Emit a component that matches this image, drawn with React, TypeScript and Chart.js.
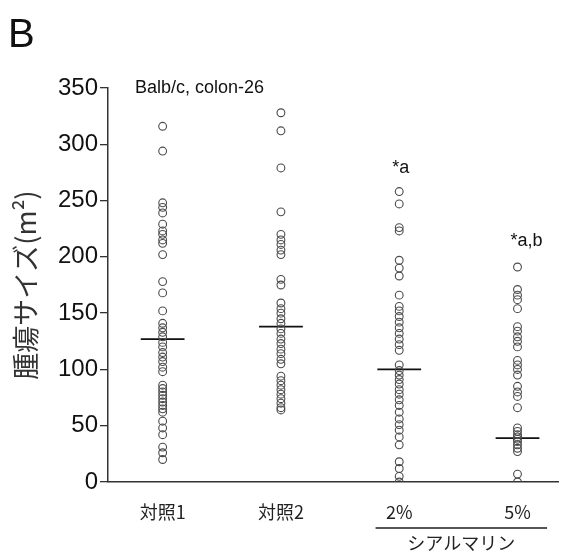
import React, { useEffect, useRef } from "react";
import { Chart, registerables } from "chart.js";

Chart.register(...registerables);

const categories = ["対照1", "対照2", "2%", "5%"];
const groupX = [1, 2, 3, 4];

const control1 = [316, 294, 248, 244, 239, 229, 223, 220, 215, 212, 202, 178, 168, 152, 141, 137, 133, 129, 124, 120, 115, 111, 107, 102, 98, 86, 83, 80, 77, 74, 71, 68, 65, 62, 54, 48, 42, 31, 26, 20];
const control2 = [328, 312, 279, 240, 220, 215, 211, 206, 202, 180, 175, 159, 154, 150, 145, 141, 136, 132, 127, 123, 118, 114, 109, 105, 94, 90, 86, 82, 78, 74, 70, 66, 64];
const sial2 = [258, 247, 226, 223, 197, 190, 183, 166, 156, 152, 147, 142, 137, 132, 127, 122, 117, 104, 99, 95, 91, 87, 82, 78, 73, 68, 62, 56, 51, 46, 40, 33, 18, 12, 5, 0];
const sial5 = [191, 171, 166, 162, 154, 138, 134, 129, 125, 120, 108, 104, 100, 95, 85, 80, 76, 66, 48, 45, 42, 40, 38, 36, 33, 30, 27, 7, 0];
const groupMeans = [127, 138, 100, 39];
const significance = ["", "", "*a", "*a,b"];
const significanceY = [0, 0, 279, 214];
const yTicks = [0, 50, 100, 150, 200, 250, 300, 350];

const groups = [control1, control2, sial2, sial5];

const sansFont = "'Liberation Sans', Arial, sans-serif";
const cjkFont = "'Noto Sans CJK JP', 'Liberation Sans', sans-serif";

export default function App() {
  const ref = useRef<HTMLCanvasElement | null>(null);

  useEffect(() => {
    if (!ref.current) return;

    const scatterSets = groups.map((vals, i) => ({
      type: "scatter" as const,
      data: vals.map((v) => ({ x: groupX[i], y: v })),
      pointStyle: "circle",
      pointRadius: 3.9,
      pointBorderWidth: 1.1,
      pointBorderColor: "#4a4a4a",
      pointBackgroundColor: "rgba(255,255,255,0)",
      showLine: false,
    }));

    const meanSets = groupMeans.map((m, i) => ({
      type: "line" as const,
      data: [
        { x: groupX[i] - 0.185, y: m },
        { x: groupX[i] + 0.185, y: m },
      ],
      borderColor: "#111",
      borderWidth: 1.8,
      pointRadius: 0,
    }));

    const annotate = {
      id: "annotate",
      afterDraw(chart: any) {
        const ctx = chart.ctx;
        const xs = chart.scales.x;
        const ys = chart.scales.y;
        ctx.save();
        ctx.fillStyle = "#111";
        ctx.textBaseline = "alphabetic";
        ctx.textAlign = "left";
        ctx.font = `40px ${sansFont}`;
        ctx.fillText("B", 8, 47);
        ctx.font = `18px ${sansFont}`;
        ctx.textBaseline = "middle";
        ctx.fillText("Balb/c, colon-26", 135, 88);
        significance.forEach((s, i) => {
          if (!s) return;
          ctx.fillText(s, xs.getPixelForValue(groupX[i]) - 7, ys.getPixelForValue(significanceY[i]));
        });
        const x1 = xs.getPixelForValue(2.8);
        const x2 = xs.getPixelForValue(4.25);
        const ly = chart.chartArea.bottom + 46;
        ctx.strokeStyle = "#555";
        ctx.lineWidth = 2;
        ctx.beginPath();
        ctx.moveTo(x1, ly);
        ctx.lineTo(x2, ly);
        ctx.stroke();
        ctx.font = `18px ${cjkFont}`;
        ctx.textAlign = "center";
        ctx.fillStyle = "#222";
        ctx.fillText("シアルマリン", (x1 + x2) / 2, ly + 15);
        ctx.restore();
      },
    };

    const chart = new Chart(ref.current, {
      type: "scatter",
      data: { datasets: [...scatterSets, ...meanSets] as any },
      plugins: [annotate],
      options: {
        animation: false,
        responsive: false,
        layout: { padding: { top: 88, right: 2, left: 0, bottom: 0 } },
        plugins: {
          legend: { display: false },
          tooltip: { enabled: false },
        },
        scales: {
          x: {
            type: "linear",
            min: 0.538,
            max: 4.35,
            afterFit: (s: any) => {
              s.height = 70;
            },
            afterBuildTicks: (s: any) => {
              s.ticks = groupX.map((v) => ({ value: v }));
            },
            grid: { display: false, drawTicks: false },
            border: { display: true, color: "#333", width: 1.5 },
            ticks: {
              padding: 19,
              color: "#222",
              font: { family: cjkFont, size: 18 },
              callback: (v: any) => categories[groupX.indexOf(Number(v))] ?? "",
            },
          },
          y: {
            type: "linear",
            min: 0,
            max: 350,
            afterFit: (s: any) => {
              s.width = 108;
            },
            afterBuildTicks: (s: any) => {
              s.ticks = yTicks.map((v) => ({ value: v }));
            },
            grid: {
              drawOnChartArea: false,
              drawTicks: true,
              tickLength: 8,
              color: "#333",
              lineWidth: 1.3,
            },
            border: { display: true, color: "#333", width: 1.5 },
            ticks: {
              padding: 2,
              color: "#111",
              font: { family: sansFont, size: 24 },
            },
            title: {
              display: true,
              text: "腫瘍サイズ(m²)",
              color: "#333",
              font: { family: cjkFont, size: 27, weight: "normal" as any },
              padding: { top: 10, bottom: 0 },
            },
          },
        },
      },
    });
    return () => chart.destroy();
  }, []);

  return (
    <div style={{ position: "fixed", left: 0, top: 0, width: 564, height: 552, background: "#fff" }}>
      <canvas ref={ref} width={564} height={552} style={{ width: 564, height: 552 }} />
    </div>
  );
}
